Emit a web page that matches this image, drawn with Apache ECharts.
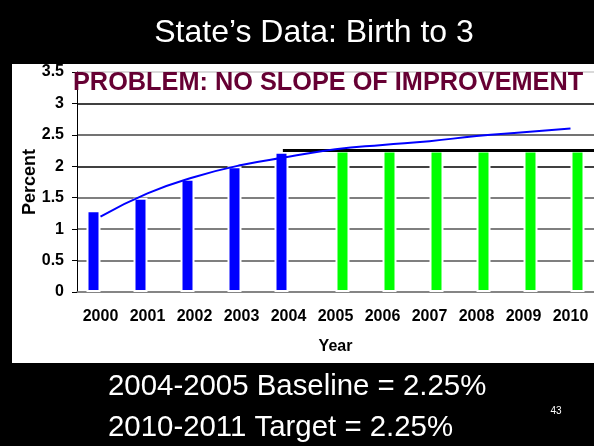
<!DOCTYPE html>
<html>
<head>
<meta charset="utf-8">
<title>State's Data: Birth to 3</title>
<script src="https://cdn.jsdelivr.net/npm/echarts@6/dist/echarts.min.js"></script>
<style>
  html, body { margin: 0; padding: 0; background: #000; }
  #chart { width: 594px; height: 446px; }
</style>
</head>
<body>
<div id="chart"></div>
<script>
/* data */
const years = ['2000', '2001', '2002', '2003', '2004', '2005', '2006', '2007', '2008', '2009', '2010'];
const actual = [1.3, 1.5, 1.8, 2.0, 2.23, null, null, null, null, null, null];
const target = [null, null, null, null, null, 2.25, 2.25, 2.25, 2.25, 2.25, 2.25];
const trend = [1.2, 1.57, 1.83, 2.02, 2.15, 2.27, 2.34, 2.4, 2.48, 2.54, 2.6];
const baselineX = [4.38, 11];
const baselineY = [2.25, 2.25];

const font = '"Liberation Sans", Arial, sans-serif';

const chart = echarts.init(document.getElementById('chart'));

chart.setOption({
  backgroundColor: '#000',
  animation: false,
  grid: {
    left: 77,
    right: 0,
    top: 72,
    bottom: 154,
    containLabel: false,
  },
  xAxis: [
    {
      type: 'category',
      data: years,
      name: 'Year',
      nameLocation: 'middle',
      nameGap: 47,
      nameTextStyle: { color: '#000', fontFamily: font, fontWeight: 'bold', fontSize: 16 },
      axisLine: { lineStyle: { color: '#888', width: 1.5 } },
      axisTick: { length: 5, lineStyle: { color: '#000' } },
      axisLabel: { color: '#000', fontFamily: font, fontWeight: 'bold', fontSize: 16, margin: 17 },
    },
    {
      /* hidden value axis for the baseline bar across the top */
      type: 'value',
      min: 0,
      max: 11,
      show: false,
    },
  ],
  yAxis: {
    type: 'value',
    min: 0,
    max: 3.5,
    interval: 0.5,
    name: 'Percent',
    nameLocation: 'middle',
    nameRotate: 90,
    nameGap: 38,
    nameMoveOverlap: false,
    nameTextStyle: { color: '#000', fontFamily: font, fontWeight: 'bold', fontSize: 18 },
    axisLine: { show: true, lineStyle: { color: '#000' } },
    axisTick: { show: true, length: 5, lineStyle: { color: '#000' } },
    axisLabel: { color: '#000', fontFamily: font, fontWeight: 'bold', fontSize: 16, margin: 13 },
    splitLine: {
      lineStyle: {
        color: ['#555', '#555', '#555', '#555', '#000', '#444', '#000', '#ccc'],
        width: 1.5,
      },
    },
  },
  series: [
    {
      type: 'bar',
      data: actual,
      barWidth: 14,
      barGap: 0,
      itemStyle: { color: '#0000ff', borderColor: '#fff', borderWidth: 2 },
    },
    {
      type: 'bar',
      data: target,
      barWidth: 14,
      itemStyle: { color: '#00ff00', borderColor: '#fff', borderWidth: 2 },
    },
    {
      /* log trend line */
      type: 'line',
      data: trend,
      smooth: true,
      symbol: 'none',
      lineStyle: { color: '#0000ff', width: 2 },
      z: 5,
    },
    {
      /* baseline = target */
      type: 'line',
      xAxisIndex: 1,
      data: baselineX.map((x, i) => [x, baselineY[i]]),
      symbol: 'none',
      lineStyle: { color: '#000', width: 3 },
      z: 4,
    },
  ],
  graphic: [
    {
      /* white panel behind the chart */
      type: 'rect',
      shape: { x: 12, y: 64, width: 600, height: 299 },
      style: { fill: '#fff' },
      z: -10,
      silent: true,
    },
    {
      type: 'text',
      x: 314,
      y: 33,
      style: {
        text: 'State\u2019s Data: Birth to 3',
        fill: '#fff',
        font: '32px ' + font,
        textAlign: 'center',
        textVerticalAlign: 'middle',
      },
    },
    {
      type: 'text',
      x: 73,
      y: 83,
      z: 20,
      style: {
        text: 'PROBLEM: NO SLOPE OF IMPROVEMENT',
        fill: '#660033',
        font: 'bold 25.3px ' + font,
        textAlign: 'left',
        textVerticalAlign: 'middle',
      },
    },
    {
      type: 'text',
      x: 108,
      y: 387,
      style: {
        text: '2004-2005 Baseline = 2.25%',
        fill: '#fff',
        font: '29.4px ' + font,
        textAlign: 'left',
        textVerticalAlign: 'middle',
      },
    },
    {
      type: 'text',
      x: 108,
      y: 428,
      style: {
        text: '2010-2011 Target = 2.25%',
        fill: '#fff',
        font: '29.4px ' + font,
        textAlign: 'left',
        textVerticalAlign: 'middle',
      },
    },
    {
      type: 'text',
      x: 556,
      y: 411,
      style: {
        text: '43',
        fill: '#fff',
        font: '10px ' + font,
        textAlign: 'center',
        textVerticalAlign: 'middle',
      },
    },
  ],
});
</script>
</body>
</html>
